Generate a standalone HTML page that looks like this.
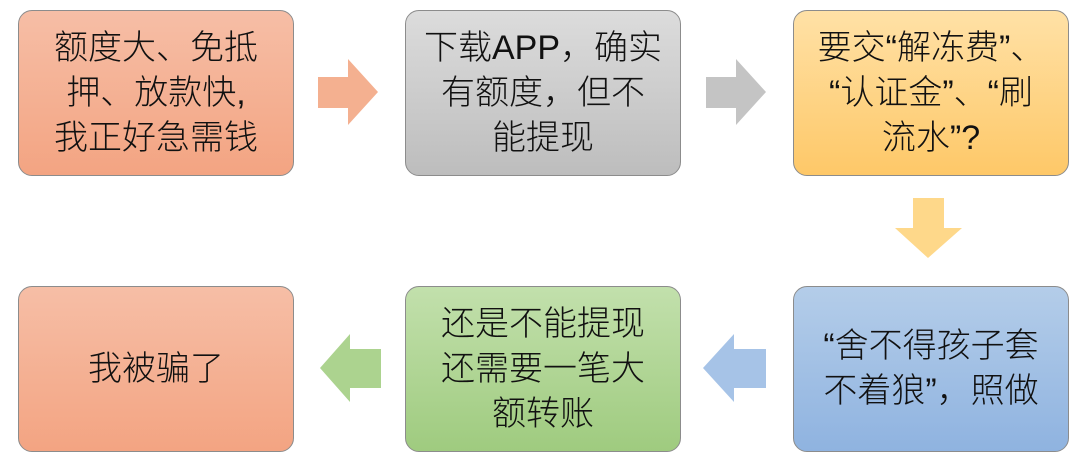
<!DOCTYPE html>
<html><head><meta charset="utf-8"><style>
body{margin:0;width:1080px;height:463px;background:#fff;position:relative;overflow:hidden;font-family:"Liberation Sans","Noto Sans CJK SC",sans-serif;}
.b{position:absolute;box-sizing:border-box;border:1.5px solid #8c8c8c;border-radius:14px;display:flex;align-items:center;justify-content:center;text-align:center;font-size:34px;line-height:45px;color:#111;white-space:nowrap;font-weight:300;}
svg{position:absolute;left:0;top:0}
</style></head><body>
<div class="b" style="left:18px;top:10px;width:276px;height:166px;background:linear-gradient(#f6bea6,#f3a482)">额度大、免抵<br>押、放款快,<br>我正好急需钱</div>
<div class="b" style="left:405px;top:10px;width:276px;height:166px;background:linear-gradient(#dcdcdc,#bdbdbd)">下载APP，确实<br>有额度，但不<br>能提现</div>
<div class="b" style="left:793px;top:10px;width:276px;height:166px;background:linear-gradient(#ffe1a6,#fec868)">要交“解冻费”、<br>“认证金”、“刷<br>流水”?</div>
<div class="b" style="left:18px;top:286px;width:276px;height:166px;background:linear-gradient(#f6bea6,#f3a482)">我被骗了</div>
<div class="b" style="left:405px;top:286px;width:276px;height:166px;background:linear-gradient(#c2e0ac,#9fcb7f)">还是不能提现<br>还需要一笔大<br>额转账</div>
<div class="b" style="left:793px;top:286px;width:276px;height:166px;background:linear-gradient(#b4cde9,#8fb3e0)">“舍不得孩子套<br>不着狼”，照做</div>
<svg width="1080" height="463">
<polygon points="318,77 348,77 348,59 378,92 348,125 348,108 318,108" fill="#f4b090"/>
<polygon points="706,77 736,77 736,59 766,92 736,125 736,108 706,108" fill="#c4c4c4"/>
<polygon points="913,198 944,198 944,228 962,228 928,258 895,228 913,228" fill="#fed88a"/>
<polygon points="766,349 734,349 734,334 703,368 734,402 734,388 766,388" fill="#a6c3e7"/>
<polygon points="381,349 350,349 350,334 320,368 350,402 350,388 381,388" fill="#acd38f"/>
</svg>
</body></html>
